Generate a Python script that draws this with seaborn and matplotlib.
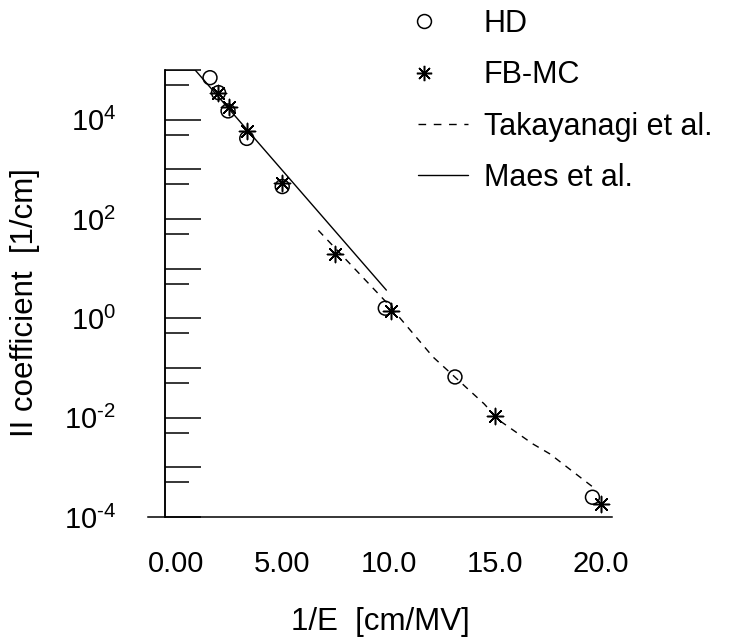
import numpy as np
import pandas as pd
import matplotlib
matplotlib.use("Agg")
import matplotlib.pyplot as plt
import seaborn as sns
from matplotlib.lines import Line2D
from matplotlib.legend_handler import HandlerLine2D
from matplotlib.ticker import NullLocator, NullFormatter

# ---- data ----
hd_x = [1.6, 2.0, 2.45, 3.33, 5.0, 9.85, 13.13, 19.6]
hd_y = [7.0e4, 3.5e4, 1.5e4, 4.2e3, 450, 1.6, 0.066, 2.5e-4]

fb_x = [2.0, 2.5, 3.33, 5.0, 7.5, 10.1, 15.0, 20.0]
fb_y = [3.5e4, 1.8e4, 5.8e3, 520, 20, 1.4, 0.011, 1.8e-4]

tak_x = [6.7, 10.0, 12.1, 14.5, 15.2, 16.8, 17.6, 19.8]
tak_y = [59, 1.9, 0.166, 0.019, 0.0089, 0.00295, 0.00186, 3.5e-4]

maes_x = [-0.52, 0.9, 9.9]
maes_y = [1e5, 1e5, 3.7]

x_ticks = [0, 5, 10, 15, 20]
x_ticklabels = ["0.00", "5.00", "10.0", "15.0", "20.0"]
y_label_ticks = [1e-4, 1e-2, 1e0, 1e2, 1e4]
y_ticklabels = [r"$\mathregular{10^{\text{-}4}}$", r"$\mathregular{10^{\text{-}2}}$",
                r"$\mathregular{10^{0}}$", r"$\mathregular{10^{2}}$",
                r"$\mathregular{10^{4}}$"]
y_in_major = [10.0 ** k for k in range(-4, 6)]
y_in_minor = [5 * 10.0 ** k for k in range(-4, 5)]

# ---- style ----
sns.set_style("white")
plt.rcParams["font.family"] = ["Liberation Sans", "DejaVu Sans"]
plt.rcParams["mathtext.fontset"] = "custom"
plt.rcParams["mathtext.rm"] = "Liberation Sans"
plt.rcParams["mathtext.it"] = "Liberation Sans:italic"
plt.rcParams["mathtext.bf"] = "Liberation Sans:bold"
plt.rcParams["text.color"] = "black"
plt.rcParams["axes.labelcolor"] = "black"
plt.rcParams["xtick.color"] = "black"
plt.rcParams["ytick.color"] = "black"
plt.rcParams["axes.edgecolor"] = "black"

fig = plt.figure(figsize=(7.33, 6.38), dpi=100)
ax = fig.add_axes([148 / 733, 1 - 517 / 638, (612 - 148) / 733, (517 - 70) / 638])
ax.set_yscale("log")

LW = 1.0
sns.lineplot(x=maes_x, y=maes_y, ax=ax, color="black", lw=LW, sort=False,
             estimator=None)
sns.lineplot(x=tak_x, y=tak_y, ax=ax, color="black", lw=LW, sort=False,
             estimator=None, dashes=False, linestyle=(0, (5, 4.5)))
sns.scatterplot(x=hd_x, y=hd_y, ax=ax, marker="o", s=100, facecolor="none",
                edgecolor="black", linewidth=1.1, zorder=3)
sns.scatterplot(x=fb_x, y=fb_y, ax=ax, marker=(8, 2, 0), s=135, color="black",
                linewidth=1.1, zorder=3)

ax.set_xlim(-1.318, 20.52)
ax.set_ylim(1e-4, 1e5)

for s in ["top", "right"]:
    ax.spines[s].set_visible(False)
ax.spines["left"].set_position(("data", -0.52))
for s in ["left", "bottom"]:
    ax.spines[s].set_linewidth(1.1)
    ax.spines[s].set_color("black")

ax.set_xticks(x_ticks, x_ticklabels)
ax.set_yticks(y_label_ticks, y_ticklabels)
ax.yaxis.set_minor_locator(NullLocator())
ax.tick_params(axis="x", which="major", direction="out", length=11.5, width=1.1,
               pad=12, labelsize=21, colors="black")
ax.tick_params(axis="y", which="major", direction="out", length=12.2, width=1.1,
               pad=23, labelsize=21, colors="black")

# inward ticks on the y axis
sec = ax.secondary_yaxis((165 - 148) / (612 - 148))
sec.set_ticks(y_in_major)
sec.set_ticks(y_in_minor, minor=True)
sec.yaxis.set_major_formatter(NullFormatter())
sec.yaxis.set_minor_formatter(NullFormatter())
sec.tick_params(which="major", direction="in", length=26, width=1.1, colors="black")
sec.tick_params(which="minor", direction="in", length=17.3, width=1.1, colors="black")
sec.spines["left"].set_linewidth(1.1)
sec.spines["left"].set_color("black")

ax.set_xlabel("1/E  [cm/MV]", fontsize=22.5, labelpad=21, color="black")
ax.set_ylabel("II coefficient  [1/cm]", fontsize=22.5, color="black")
ax.yaxis.set_label_coords(-0.232, 0.479)


class LeftMarkerHandler(HandlerLine2D):
    def get_xdata(self, legend, xdescent, ydescent, width, height, fontsize):
        xm = -xdescent + 0.12 * width
        return np.array([xm, xm]), np.array([xm])


handles = [
    Line2D([], [], ls="", marker="o", mfc="none", mec="black", ms=10, mew=1.1),
    Line2D([], [], ls="", marker=(8, 2, 0), color="black", ms=11, mew=1.1),
    Line2D([], [], ls=(0, (5.5, 5.5)), color="black", lw=LW),
    Line2D([], [], ls="-", color="black", lw=LW),
]
labels = ["HD", "FB-MC", "Takayanagi et al.", "Maes et al."]
leg = fig.legend(handles, labels, loc="upper left",
                 bbox_to_anchor=(418 / 733, 1 - 9 / 638), frameon=False, fontsize=22,
                 handlelength=1.65, handletextpad=0.5, labelspacing=0.70,
                 borderpad=0, borderaxespad=0, labelcolor="black",
                 handler_map={handles[0]: LeftMarkerHandler(),
                              handles[1]: LeftMarkerHandler()})

fig.savefig("out.png", dpi=100, facecolor="white")
